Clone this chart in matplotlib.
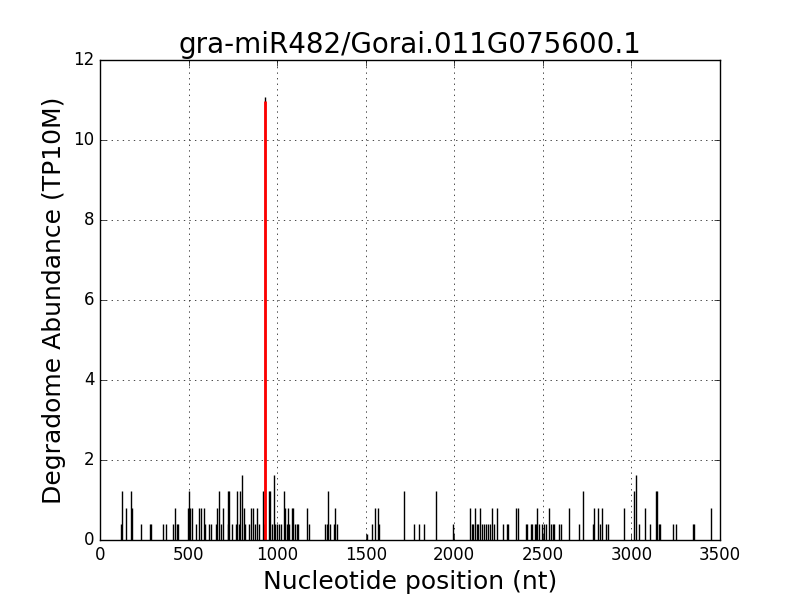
import matplotlib
matplotlib.use('Agg')
import matplotlib.pyplot as plt

# degradome tags along the transcript (position in nt, abundance in TP10M)
positions = [
    117, 126, 149, 177, 183, 233, 283, 287, 358, 375, 414, 421, 435, 440,
    498, 502, 507, 517, 542, 561, 572, 585, 590, 617, 625, 653, 662, 672,
    681, 696, 720, 725, 731, 743, 770, 775, 786, 792, 802, 813, 820, 843,
    851, 866, 875, 885, 896, 918, 926, 954, 960, 969, 982, 988, 1001, 1012,
    1022, 1039, 1046, 1054, 1061, 1069, 1085, 1092, 1103, 1110, 1120, 1167,
    1178, 1268, 1280, 1289, 1298, 1321, 1327, 1336, 1508, 1537, 1554, 1569,
    1577, 1718, 1773, 1801, 1831, 1899, 1995, 2089, 2098, 2107, 2117, 2126,
    2136, 2145, 2155, 2168, 2179, 2190, 2201, 2215, 2224, 2243, 2273, 2300,
    2305, 2348, 2358, 2407, 2412, 2433, 2441, 2454, 2461, 2469, 2480, 2497,
    2508, 2518, 2536, 2547, 2556, 2565, 2593, 2602, 2649, 2706, 2727, 2785,
    2790, 2813, 2823, 2836, 2857, 2870, 2958, 3016, 3024, 3043, 3078, 3105,
    3141, 3146, 3157, 3163, 3237, 3252, 3346, 3355, 3451,
]
abundance = [
    0.41, 1.22, 0.81, 1.22, 0.81, 0.41, 0.41, 0.41, 0.41, 0.41, 0.41, 0.81, 0.41, 0.41,
    0.81, 1.22, 0.81, 0.81, 0.41, 0.81, 0.81, 0.81, 0.41, 0.41, 0.41, 0.41, 0.81, 1.22,
    0.41, 0.81, 1.22, 0.41, 1.22, 0.41, 0.41, 1.22, 0.41, 1.22, 1.62, 0.81, 0.41, 0.41,
    0.81, 0.81, 0.41, 0.81, 0.41, 1.22, 0.41, 1.22, 1.22, 0.41, 1.62, 0.41, 0.41, 0.41,
    0.41, 1.22, 0.81, 0.41, 0.81, 0.41, 0.81, 0.81, 0.41, 0.41, 0.41, 0.81,
    0.41, 0.41, 0.41, 1.22, 0.41, 0.41, 0.81, 0.41, 0.14, 0.41, 0.81, 0.81,
    0.41, 1.22, 0.41, 0.41, 0.41, 1.22, 0.41, 0.81, 0.41, 0.41, 0.81, 0.41,
    0.41, 0.81, 0.41, 0.41, 0.41, 0.41, 0.41, 0.81, 0.41, 0.81, 0.41, 0.41,
    0.41, 0.81, 0.81, 0.41, 0.41, 0.41, 0.41, 0.41, 0.41, 0.81, 0.41, 0.41,
    0.41, 0.41, 0.81, 0.41, 0.41, 0.41, 0.41, 0.41, 0.81, 0.41, 1.22, 0.41,
    0.81, 0.81, 0.41, 0.81, 0.41, 0.41, 0.81, 1.22, 1.62, 0.41, 0.81, 0.41,
    1.22, 1.22, 0.41, 0.41, 0.41, 0.41, 0.41, 0.41, 0.81,
]

# predicted cleavage site
cleave_pos = 931
cleave_abund = 11.07

TITLE = 'gra-miR482/Gorai.011G075600.1'

plt.style.use('classic')

fig, ax = plt.subplots(figsize=(8, 6), dpi=100)
fig.patch.set_facecolor('white')
fig.subplots_adjust(left=0.125, right=0.9, bottom=0.1, top=0.9)

ax.vlines(positions, 0, abundance, color='black', linewidth=1)
ax.vlines([cleave_pos], 0, [cleave_abund], color='black', linewidth=1)
ax.vlines([cleave_pos], 0, [cleave_abund - 0.1], color='red', linewidth=2)

ax.set_xlim(0, 3500)
ax.set_ylim(0, 12)
ax.set_xticks(range(0, 3501, 500))
ax.set_yticks(range(0, 13, 2))
ax.grid(True)

ax.set_title(TITLE, fontsize=20)
ax.set_xlabel('Nucleotide position (nt)', fontsize=18)
ax.set_ylabel('Degradome Abundance (TP10M)', fontsize=18)

fig.savefig('out.png', dpi=100, facecolor='white')
